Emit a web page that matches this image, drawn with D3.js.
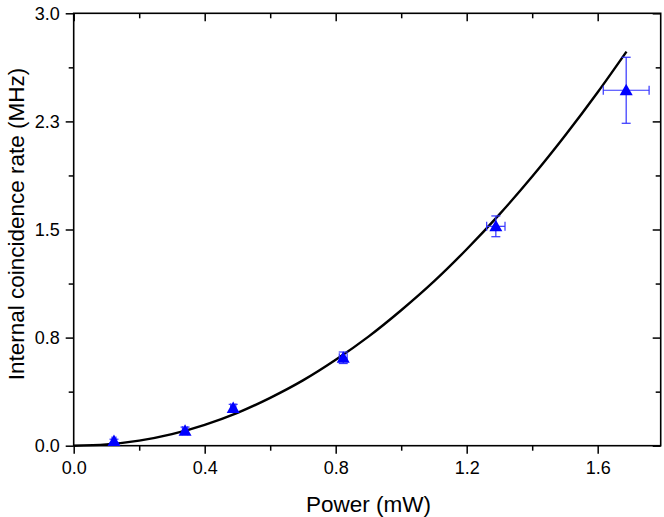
<!DOCTYPE html>
<html><head><meta charset="utf-8">
<script src="https://cdn.jsdelivr.net/npm/d3@7"></script>
<style>body{margin:0;background:#fff}svg{display:block}text{font-family:"Liberation Sans",Arial,sans-serif}</style>
</head><body><svg id="c" width="664" height="517"></svg>
<script>
// data
const powerX = [0.123, 0.340, 0.487, 0.823, 1.289, 1.687];
const rateY  = [0.033, 0.104, 0.262, 0.610, 1.522, 2.466];
const errX   = [0.006, 0.008, 0.008, 0.012, 0.028, 0.070];
const errY   = [0.012, 0.025, 0.025, 0.040, 0.072, 0.229];
const fitX   = [0, 0.1, 0.2, 0.3, 0.4, 0.5, 0.6, 0.7, 0.8, 0.9, 1.0, 1.1, 1.2, 1.3, 1.4, 1.5, 1.6, 1.688];
const fitY   = [0, 0.009, 0.035, 0.080, 0.145, 0.228, 0.332, 0.453, 0.596, 0.757, 0.940, 1.140, 1.363, 1.605, 1.867, 2.150, 2.452, 2.734];
const xTicks = [0.0, 0.4, 0.8, 1.2, 1.6];
const xTickLabels = ["0.0", "0.4", "0.8", "1.2", "1.6"];
const yTicks = [0, 0.75, 1.5, 2.25, 3.0];
const yTickLabels = ["0.0", "0.8", "1.5", "2.3", "3.0"];

const svg = d3.select("#c");
const L = 73.7, R = 660.7, T = 13.3, B = 445.7;
const x = d3.scaleLinear().domain([0, 1.7924]).range([L, R]);
const y = d3.scaleLinear().domain([0, 3.0]).range([B, T]);
const xMinor = d3.range(0.2, 1.8, 0.4);
const yMinor = [0.375, 1.125, 1.875, 2.625];

// axes
function styleAxis(g){ g.select(".domain").remove(); g.selectAll("line").attr("stroke","#000").attr("stroke-width",1.5); g.selectAll("text").attr("font-size",18).attr("fill","#000"); }
svg.append("g").attr("transform",`translate(0,${B})`)
  .call(d3.axisBottom(x).tickValues(xTicks).tickFormat((d,i)=>xTickLabels[i]).tickSize(8).tickPadding(8)).call(styleAxis);
svg.append("g").attr("transform",`translate(0,${B})`)
  .call(d3.axisBottom(x).tickValues(xMinor).tickFormat("").tickSize(5)).call(styleAxis);
svg.append("g").attr("transform",`translate(${L},0)`)
  .call(d3.axisLeft(y).tickValues(yTicks).tickFormat((d,i)=>yTickLabels[i]).tickSize(8).tickPadding(6)).call(styleAxis);
svg.append("g").attr("transform",`translate(${L},0)`)
  .call(d3.axisLeft(y).tickValues(yMinor).tickFormat("").tickSize(5)).call(styleAxis);
// mirrored inward ticks
svg.append("g").attr("transform",`translate(0,${T})`)
  .call(d3.axisTop(x).tickValues(xTicks).tickFormat("").tickSize(-8)).call(styleAxis);
svg.append("g").attr("transform",`translate(0,${T})`)
  .call(d3.axisTop(x).tickValues(xMinor).tickFormat("").tickSize(-5)).call(styleAxis);
svg.append("g").attr("transform",`translate(${R},0)`)
  .call(d3.axisRight(y).tickValues(yTicks).tickFormat("").tickSize(-8)).call(styleAxis);
svg.append("g").attr("transform",`translate(${R},0)`)
  .call(d3.axisRight(y).tickValues(yMinor).tickFormat("").tickSize(-5)).call(styleAxis);

svg.append("rect").attr("x",L).attr("y",T).attr("width",R-L).attr("height",B-T)
  .attr("fill","none").attr("stroke","#000").attr("stroke-width",1.6);

// fit curve
const fit = fitX.map((v,i)=>[v, fitY[i]]);
svg.append("path").datum(fit).attr("fill","none").attr("stroke","#000").attr("stroke-width",2.4)
  .attr("d", d3.line().x(d=>x(d[0])).y(d=>y(d[1])).curve(d3.curveMonotoneX));

// error bars
const pts = powerX.map((v,i)=>({x:v,y:rateY[i],ex:errX[i],ey:errY[i]}));
const eb = svg.append("g").attr("stroke","#3333ff").attr("stroke-width",1.2);
const cap = 4.5;
pts.forEach(p=>{
  const cx=x(p.x), cy=y(p.y);
  eb.append("line").attr("x1",cx).attr("x2",cx).attr("y1",y(p.y-p.ey)).attr("y2",y(p.y+p.ey));
  eb.append("line").attr("x1",cx-cap).attr("x2",cx+cap).attr("y1",y(p.y-p.ey)).attr("y2",y(p.y-p.ey));
  eb.append("line").attr("x1",cx-cap).attr("x2",cx+cap).attr("y1",y(p.y+p.ey)).attr("y2",y(p.y+p.ey));
  eb.append("line").attr("y1",cy).attr("y2",cy).attr("x1",x(p.x-p.ex)).attr("x2",x(p.x+p.ex));
  eb.append("line").attr("y1",cy-cap).attr("y2",cy+cap).attr("x1",x(p.x-p.ex)).attr("x2",x(p.x-p.ex));
  eb.append("line").attr("y1",cy-cap).attr("y2",cy+cap).attr("x1",x(p.x+p.ex)).attr("x2",x(p.x+p.ex));
});
// triangles
svg.append("g").selectAll("path").data(pts).join("path")
  .attr("d","M0,-6.5L6.5,5L-6.5,5Z").attr("fill","#0000ff")
  .attr("transform",d=>`translate(${x(d.x)},${y(d.y)})`);

// titles
svg.append("text").attr("x",368.5).attr("y",512).attr("text-anchor","middle").attr("font-size",22.5).text("Power (mW)");
svg.append("text").attr("transform",`translate(23.5,224) rotate(-90)`).attr("text-anchor","middle").attr("font-size",22.5).text("Internal coincidence rate (MHz)");
</script></body></html>
